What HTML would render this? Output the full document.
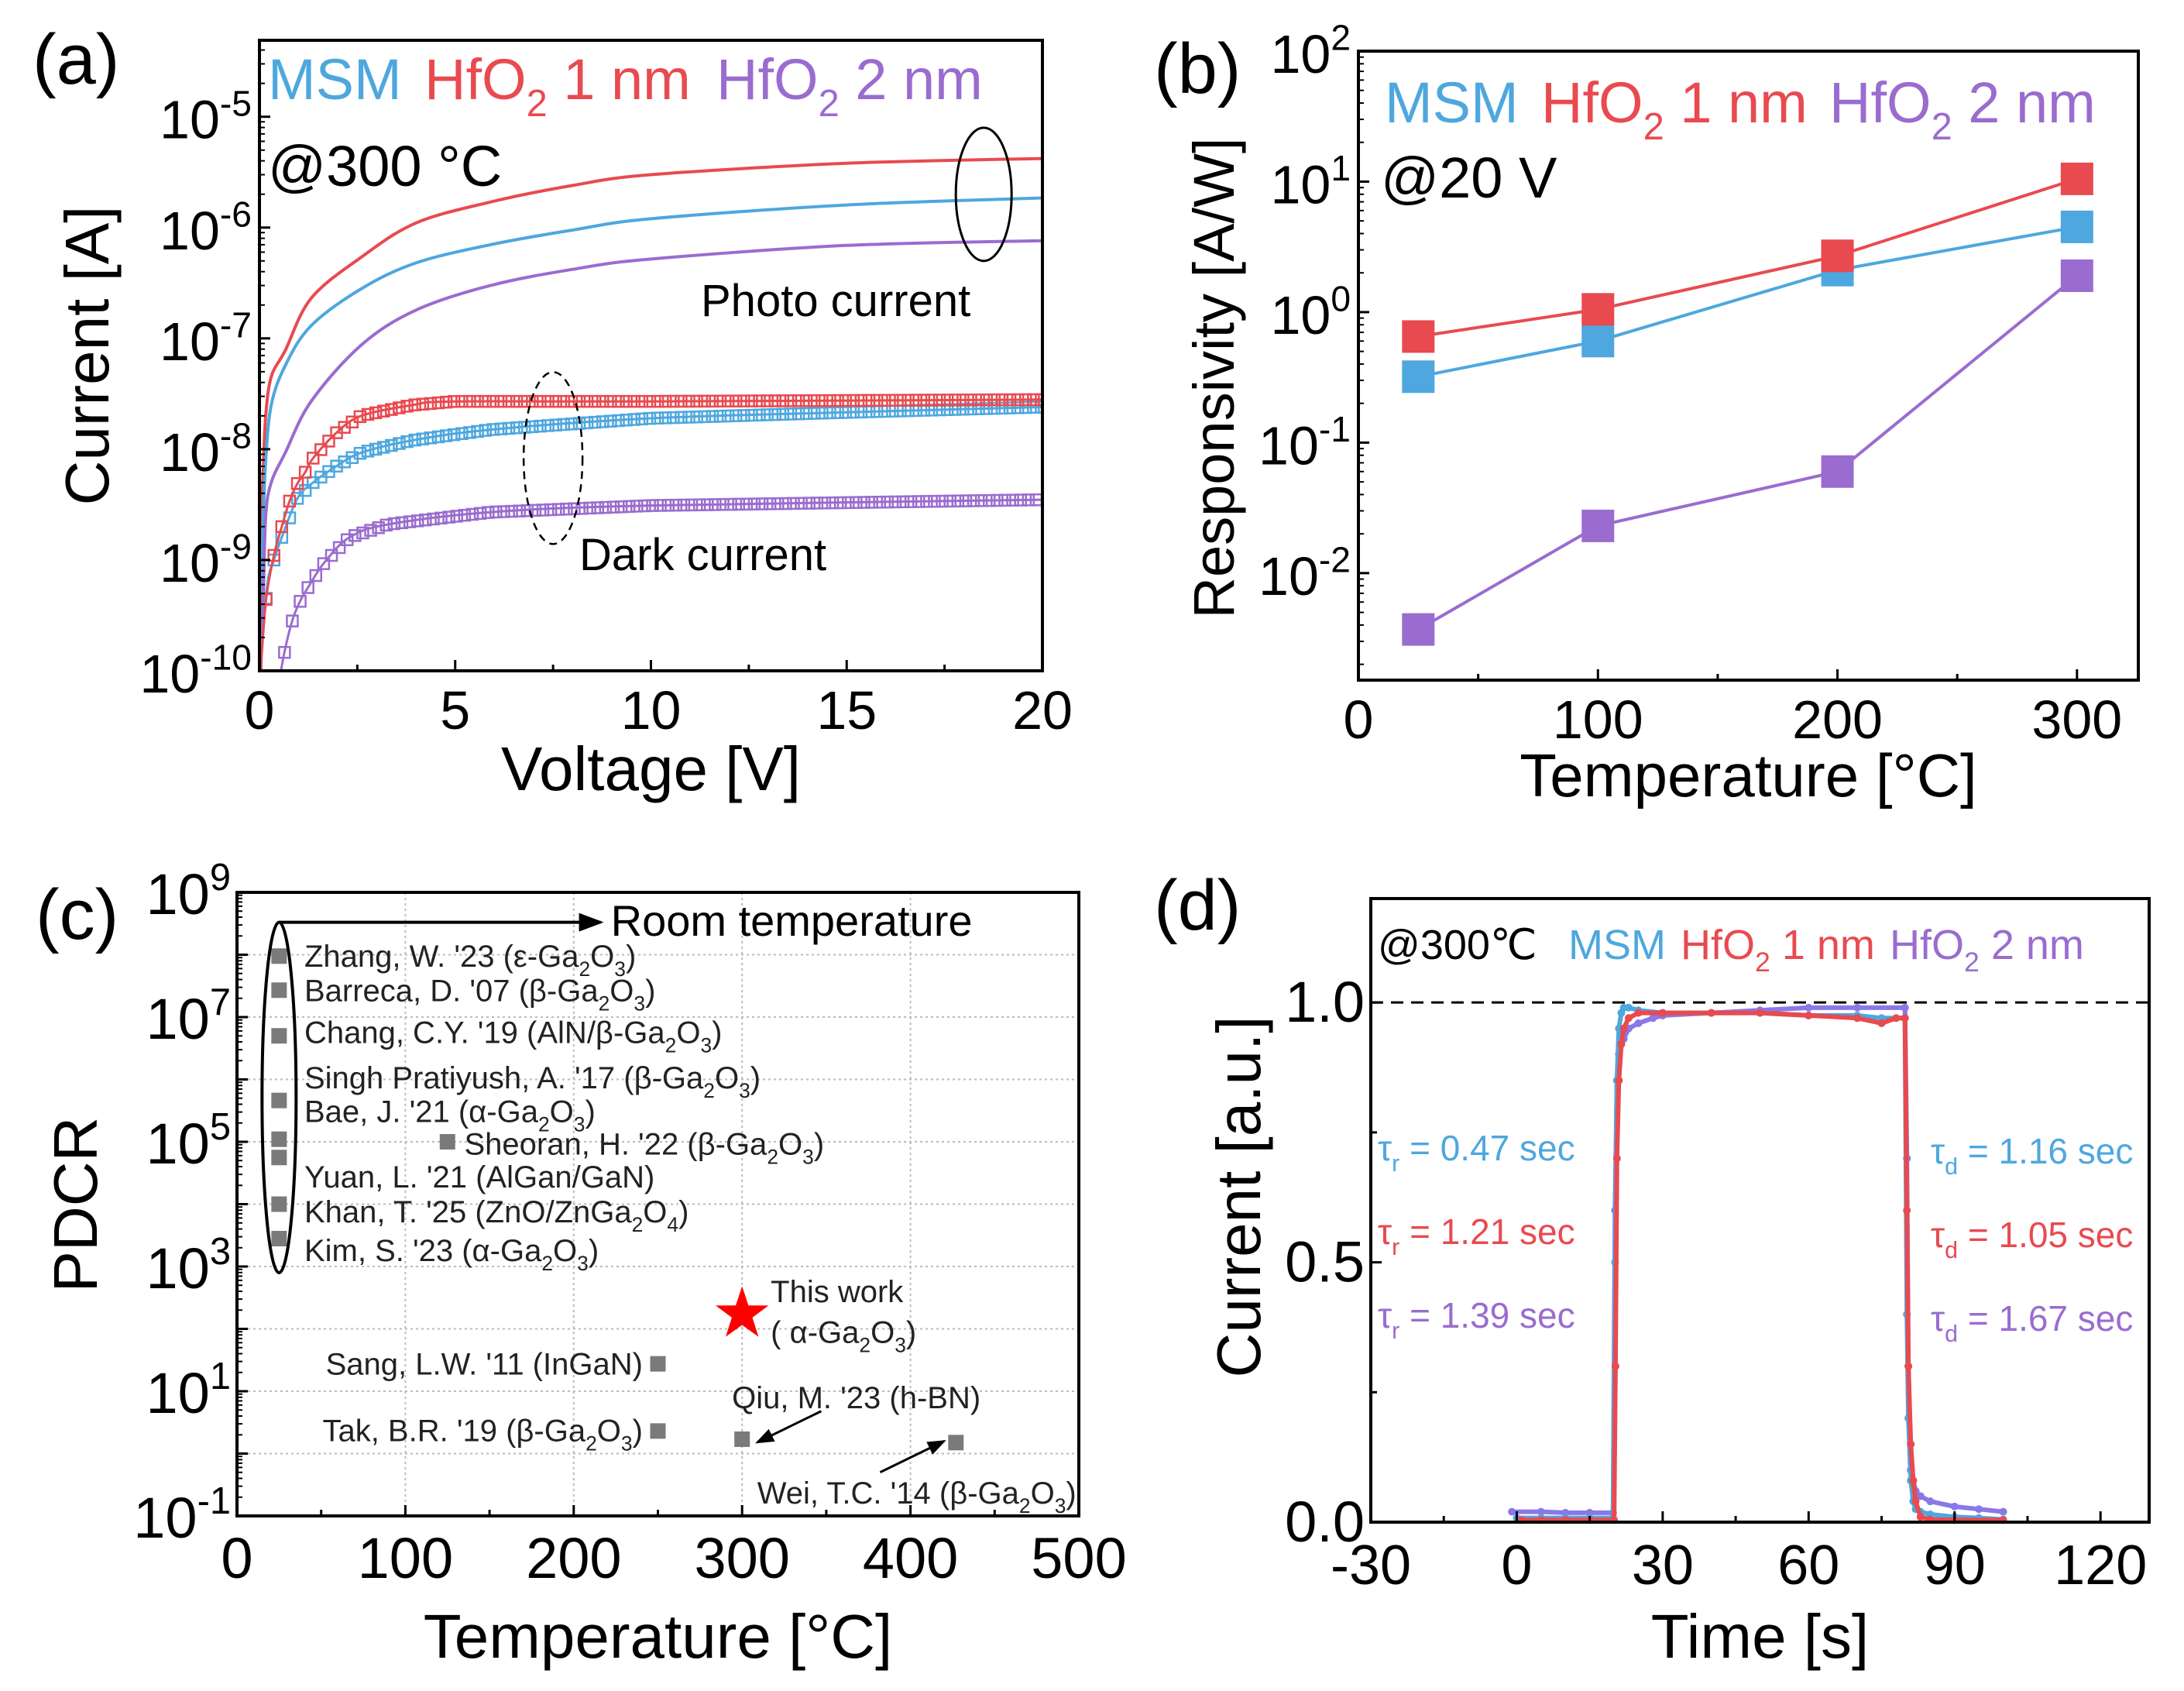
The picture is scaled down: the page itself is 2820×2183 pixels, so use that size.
<!DOCTYPE html>
<html><head><meta charset="utf-8">
<style>
html,body{margin:0;padding:0;background:#fff;}
svg{display:block;font-family:"Liberation Sans",Arial,sans-serif;}
</style></head>
<body>
<svg id="fig" width="2820" height="2183" viewBox="0 0 2820 2183" xmlns="http://www.w3.org/2000/svg"></svg>
<script>
// ---------- Panel (a) data ----------
const aPhotoV = [0.02,0.05,0.1,0.16,0.3,0.66,1.32,2.6,4,5.9,8,10,15,20];
const aPhotoRed = [3e-10,2e-9,7e-9,2e-8,4.5e-8,7.8e-8,2.3e-7,5.4e-7,1.1e-6,1.7e-6,2.4e-6,3e-6,3.8e-6,4.2e-6];
const aPhotoBlue = [1.5e-10,6e-10,2.5e-9,8e-9,2.5e-8,5.7e-8,1.3e-7,2.8e-7,4.8e-7,7e-7,9.5e-7,1.2e-6,1.6e-6,1.85e-6];
const aPhotoPurple = [5e-11,1.6e-10,5e-10,2.5e-9,5e-9,9.3e-9,2.7e-8,8.7e-8,1.8e-7,3e-7,4.2e-7,5.2e-7,6.9e-7,7.6e-7];
const aDarkRedV = [0.03,0.17,0.37,0.57,0.77,0.97,1.17,1.37,1.96,2.6,3.9,5,10,20];
const aDarkRed = [1e-10,4.4e-10,1.1e-9,2e-9,3.4e-9,4.9e-9,6.2e-9,8.3e-9,1.4e-8,2e-8,2.5e-8,2.7e-8,2.7e-8,2.8e-8];
const aDarkBlueV = [0.03,0.2,0.37,0.57,0.97,1.37,1.96,2.6,3.9,5.9,10,15,20];
const aDarkBlue = [1.2e-10,6e-10,1e-9,1.6e-9,3.6e-9,5e-9,7e-9,9.3e-9,1.2e-8,1.5e-8,1.9e-8,2.15e-8,2.4e-8];
const aDarkPurpleV = [0.5,0.66,0.86,1.06,1.26,1.66,2.3,3.3,5.9,10,20];
const aDarkPurple = [8e-11,1.6e-10,3e-10,4.4e-10,5.8e-10,9.5e-10,1.6e-9,2.1e-9,2.7e-9,3.1e-9,3.5e-9];
const aXTicks = [0,5,10,15,20];
const aYTicks = [-10,-9,-8,-7,-6,-5];

// ---------- Panel (b) data ----------
const bTemps = [25,100,200,300];
const bMSM = [0.32,0.6,2.1,4.5];
const bHf1 = [0.65,1.05,2.7,10.5];
const bHf2 = [0.0037,0.023,0.06,1.9];
const bXTicks = [0,100,200,300];
const bYTicks = [-2,-1,0,1,2];

// ---------- Panel (c) data ----------
const cNames = ["Zhang","Barreca","Chang","Bae","Singh","Yuan","Khan","Kim","Sheoran","Sang","Tak","Qiu","Wei"];
const cTemps = [25,25,25,25,25,25,25,25,125,250,250,300,427];
const cPDCR = [9.5e7,2.7e7,5e6,4.6e5,1.1e5,5.6e4,1e4,2.8e3,1e5,27.5,2.3,1.7,1.5];
const cThisTemp = [300];
const cThisPDCR = [172];
const cXTicks = [0,100,200,300,400,500];
const cYTicks = [-1,1,3,5,7,9];

// ---------- Panel (d) data ----------
const dMSMt = [0,5,10,15,19.8,20.2,20.6,21,21.5,22,23,25,30,40,50,60,70,75,79.8,80.2,80.5,81,81.5,82,83,85,90,95,100];
const dMSMv = [0.008,0.008,0.008,0.008,0.008,0.5,0.85,0.95,0.98,0.99,0.99,0.985,0.98,0.98,0.98,0.975,0.975,0.97,0.97,0.4,0.2,0.08,0.04,0.025,0.02,0.015,0.01,0.008,0.005];
const dHf2t = [-1,5,10,15,19.8,20.2,20.6,21,22,23,25,28,30,40,50,60,70,79.8,80.2,80.5,81,82,83,85,90,95,100];
const dHf2v = [0.02,0.02,0.018,0.018,0.018,0.6,0.85,0.9,0.93,0.95,0.96,0.97,0.975,0.98,0.985,0.99,0.99,0.99,0.7,0.3,0.1,0.06,0.05,0.04,0.03,0.025,0.02];
const dHf1t = [1,5,10,15,20,20.3,20.6,21,21.5,22,23,25,30,40,50,60,70,75,78,79.8,80.2,80.5,81,81.5,82,83,85,90,100];
const dHf1v = [0.004,0.004,0.004,0.004,0.004,0.3,0.7,0.85,0.92,0.95,0.97,0.98,0.98,0.98,0.98,0.975,0.97,0.96,0.97,0.97,0.6,0.3,0.15,0.08,0.04,0.01,0.005,0.004,0.004];
const dXTicks = [-30,0,30,60,90,120];
const dYTicks = [0,0.5,1.0];

const BLUE="#4ea7de", RED="#e84a50", PURPLE="#9a6ccf";
const NS="http://www.w3.org/2000/svg";
const svg=document.getElementById('fig');
function mk(tag,attrs,parent){const e=document.createElementNS(NS,tag);for(const k in attrs)e.setAttribute(k,attrs[k]);(parent||svg).appendChild(e);return e;}
function rich(parent,x,y,str,size,fill,anchor,extra){
  const t=mk('text',Object.assign({x:x,y:y,'font-size':size,fill:fill||'#000','text-anchor':anchor||'start'},extra||{}),parent);
  const re=/([_^])\{([^}]*)\}|([^_^]+)/g;let m;let shift=0;
  while((m=re.exec(str))){
    const s=mk('tspan',{},t);
    if(m[3]!==undefined){s.textContent=m[3];s.setAttribute('dy',-shift);shift=0;}
    else{const d=m[1]==='_'?size*0.3:-size*0.42;s.textContent=m[2];s.setAttribute('font-size',size*0.66);s.setAttribute('dy',d-shift);shift=d;}
  }
  if(shift){const s=mk('tspan',{dy:-shift},t);s.textContent='\u200b';}
  return t;
}
function linAx(d0,d1,p0,p1){return v=>p0+(v-d0)/(d1-d0)*(p1-p0);}
function logAx(l0,l1,p0,p1){return v=>p0+(Math.log10(v)-l0)/(l1-l0)*(p1-p0);}
function pathD(xs,ys,sx,sy){return xs.map((x,i)=>(i?'L':'M')+sx(x).toFixed(1)+','+sy(ys[i]).toFixed(1)).join('');}
// smooth (monotone-ish) path through points using Catmull-Rom in pixel space
function smoothD(xs,ys,sx,sy){
  const p=xs.map((x,i)=>[sx(x),sy(ys[i])]);let d='M'+p[0][0].toFixed(1)+','+p[0][1].toFixed(1);
  for(let i=0;i<p.length-1;i++){const p0=p[i-1]||p[i],p1=p[i],p2=p[i+1],p3=p[i+2]||p2;
    const c1=[p1[0]+(p2[0]-p0[0])/6,p1[1]+(p2[1]-p0[1])/6],c2=[p2[0]-(p3[0]-p1[0])/6,p2[1]-(p3[1]-p1[1])/6];
    d+='C'+c1[0].toFixed(1)+','+c1[1].toFixed(1)+' '+c2[0].toFixed(1)+','+c2[1].toFixed(1)+' '+p2[0].toFixed(1)+','+p2[1].toFixed(1);}
  return d;
}

// ================= Panel (a) =================
(function(){
const L=335,R=1346,T=52,B=866;
const g=mk('g',{});


const sx=linAx(0,20,L,R), sy=logAx(-10,-4.31,B,T);
const clip=mk('clipPath',{id:'clipA'},g);mk('rect',{x:L,y:T,width:R-L,height:B-T},clip);
const series=[[aPhotoV,aPhotoRed,RED,'photo-current-hfo2-1nm'],[aPhotoV,aPhotoBlue,BLUE,'photo-current-msm'],[aPhotoV,aPhotoPurple,PURPLE,'photo-current-hfo2-2nm']];
series.forEach(s=>{const p=mk('path',{d:smoothD(s[0],s[1],sx,sy),fill:'none',stroke:s[2],'stroke-width':4,'clip-path':'url(#clipA)'},g);

});
const dark=[[aDarkBlueV,aDarkBlue,BLUE,'dark-current-msm'],[aDarkPurpleV,aDarkPurple,PURPLE,'dark-current-hfo2-2nm'],[aDarkRedV,aDarkRed,RED,'dark-current-hfo2-1nm']];
dark.forEach(s=>{
  const gg=mk('g',{'clip-path':'url(#clipA)'},g);
  
  
  mk('path',{d:smoothD(s[0],s[1],sx,sy),fill:'none',stroke:s[2],'stroke-width':3},gg);
  const xs=s[0],ys=s[1];
  for(let v=xs[0]+0.14;v<=20.001;v+=0.2){
    let i=0;while(i<xs.length-2&&xs[i+1]<v)i++;
    const f=Math.max(0,Math.min(1,(v-xs[i])/(xs[i+1]-xs[i])));
    const lv=Math.log10(ys[i])+(Math.log10(ys[i+1])-Math.log10(ys[i]))*f;
    const px=sx(v),py=sy(Math.pow(10,lv));
    const r=mk('rect',{x:px-7,y:py-7,width:14,height:14,fill:'none',stroke:s[2],'stroke-width':2.5},gg);
    
    
  }
});
mk('rect',{x:L,y:T,width:R-L,height:B-T,fill:'none',stroke:'#000','stroke-width':4},g);
aXTicks.forEach(v=>{mk('line',{x1:sx(v),x2:sx(v),y1:B,y2:B-14,stroke:'#000','stroke-width':3},g);
  const t=mk('text',{x:sx(v),y:B+75,'font-size':70,'text-anchor':'middle'},g);t.textContent=v;
  });
for(let v=2.5;v<20;v+=5)mk('line',{x1:sx(v),x2:sx(v),y1:B,y2:B-8,stroke:'#000','stroke-width':3},g);
aYTicks.forEach(e=>{mk('line',{x1:L,x2:L+14,y1:sy(Math.pow(10,e)),y2:sy(Math.pow(10,e)),stroke:'#000','stroke-width':3},g);
  const t=rich(g,L-10,sy(Math.pow(10,e))+28,'10^{'+e+'}',70,'#000','end');
  });
for(let e=-10;e<-4;e++)for(let k=2;k<10;k++){const y=sy(k*Math.pow(10,e));if(y<T)continue;mk('line',{x1:L,x2:L+7,y1:y,y2:y,stroke:'#000','stroke-width':2},g);}
let t=mk('text',{x:(L+R)/2,y:1020,'font-size':80,'text-anchor':'middle'},g);t.textContent='Voltage [V]';

t=mk('text',{x:0,y:0,'font-size':80,'text-anchor':'middle',transform:'translate(140,459) rotate(-90)'},g);t.textContent='Current [A]';

t=mk('text',{x:42,y:108,'font-size':92},g);t.textContent='(a)';

const lg=mk('g',{},g);
rich(lg,346,128,'MSM',74,BLUE);rich(lg,548,128,'HfO_{2} 1 nm',74,RED);rich(lg,925,128,'HfO_{2} 2 nm',74,PURPLE);
t=mk('text',{x:346,y:240,'font-size':74},g);t.textContent='@300 °C';

t=mk('text',{x:905,y:408,'font-size':58},g);t.textContent='Photo current';

t=mk('text',{x:748,y:736,'font-size':58},g);t.textContent='Dark current';

let el=mk('ellipse',{cx:sx(18.5),cy:sy(Math.pow(10,-5.7)),rx:36,ry:86,fill:'none',stroke:'#000','stroke-width':3},g);

el=mk('ellipse',{cx:sx(7.5),cy:sy(Math.pow(10,-8.08)),rx:38,ry:111,fill:'none',stroke:'#000','stroke-width':2.5,'stroke-dasharray':'10,7'},g);

})();

// ================= Panel (b) =================
(function(){
const L=1754,R=2761,T=66,B=878;
const g=mk('g',{});


const sx=linAx(0,325.6,L,R), sy=logAx(-2.82,2,B,T);
[[bMSM,BLUE,'series-msm'],[bHf1,RED,'series-hfo2-1nm'],[bHf2,PURPLE,'series-hfo2-2nm']].forEach(s=>{
  const gg=mk('g',{},g);
  mk('path',{d:pathD(bTemps,s[0],sx,sy),fill:'none',stroke:s[1],'stroke-width':4},gg);
});
[[bMSM,BLUE],[bHf1,RED],[bHf2,PURPLE]].forEach(s=>{
  bTemps.forEach((x,i)=>{const r=mk('rect',{x:sx(x)-21,y:sy(s[0][i])-21,width:42,height:42,fill:s[1]},g);
  });
});
mk('rect',{x:L,y:T,width:R-L,height:B-T,fill:'none',stroke:'#000','stroke-width':4},g);
bXTicks.forEach(v=>{mk('line',{x1:sx(v),x2:sx(v),y1:B,y2:B-14,stroke:'#000','stroke-width':3},g);
  const t=mk('text',{x:sx(v),y:B+75,'font-size':70,'text-anchor':'middle'},g);t.textContent=v;
  });
[50,150,250].forEach(v=>mk('line',{x1:sx(v),x2:sx(v),y1:B,y2:B-8,stroke:'#000','stroke-width':3},g));
bYTicks.forEach(e=>{const y=sy(Math.pow(10,e));mk('line',{x1:L,x2:L+14,y1:y,y2:y,stroke:'#000','stroke-width':3},g);
  const t=rich(g,L-10,y+28,'10^{'+e+'}',70,'#000','end');
  });
for(let e=-3;e<2;e++)for(let k=2;k<10;k++){const y=sy(k*Math.pow(10,e));if(y>B)continue;mk('line',{x1:L,x2:L+7,y1:y,y2:y,stroke:'#000','stroke-width':2},g);}
let t=mk('text',{x:(L+R)/2,y:1028,'font-size':78,'text-anchor':'middle'},g);t.textContent='Temperature [°C]';

t=mk('text',{x:0,y:0,'font-size':74,'text-anchor':'middle',transform:'translate(1593,488) rotate(-90)'},g);t.textContent='Responsivity [A/W]';

t=mk('text',{x:1490,y:120,'font-size':92},g);t.textContent='(b)';

const lg=mk('g',{},g);
rich(lg,1788,158,'MSM',74,BLUE);rich(lg,1990,158,'HfO_{2} 1 nm',74,RED);rich(lg,2362,158,'HfO_{2} 2 nm',74,PURPLE);
t=mk('text',{x:1783,y:255,'font-size':74},g);t.textContent='@20 V';

})();

// ================= Panel (c) =================
const cLabels = [
 [40,7.98,"Zhang, W. '23 (ε-Ga_{2}O_{3})"],
 [40,7.43,"Barreca, D. '07 (β-Ga_{2}O_{3})"],
 [40,6.76,"Chang, C.Y. '19 (AlN/β-Ga_{2}O_{3})"],
 [40,6.03,"Singh Pratiyush, A. '17 (β-Ga_{2}O_{3})"],
 [40,5.49,"Bae, J. '21 (α-Ga_{2}O_{3})"],
 [135,4.97,"Sheoran, H. '22 (β-Ga_{2}O_{3})"],
 [40,4.44,"Yuan, L. '21 (AlGan/GaN)"],
 [40,3.88,"Khan, T. '25 (ZnO/ZnGa_{2}O_{4})"],
 [40,3.26,"Kim, S. '23 (α-Ga_{2}O_{3})"]
];
(function(){
const L=306,R=1393,T=1152,B=1957;
const g=mk('g',{});


const sx=linAx(0,500,L,R), sy=logAx(-1,9,B,T), ly=e=>sy(Math.pow(10,e));
for(let e=0;e<9;e++)mk('line',{x1:L,x2:R,y1:ly(e),y2:ly(e),stroke:'#bbb','stroke-width':2,'stroke-dasharray':'3,4'},g);
[100,200,300,400].forEach(v=>mk('line',{x1:sx(v),x2:sx(v),y1:T,y2:B,stroke:'#bbb','stroke-width':2,'stroke-dasharray':'3,4'},g));
cTemps.forEach((x,i)=>{const r=mk('rect',{x:sx(x)-10,y:sy(cPDCR[i])-10,width:20,height:20,fill:'#7a7a7a'},g);
  });
const cx=sx(cThisTemp[0]),cy=sy(cThisPDCR[0]);let pts=[];
for(let k=0;k<10;k++){const a=-Math.PI/2+k*Math.PI/5,r=k%2?14:36;pts.push((cx+r*Math.cos(a)).toFixed(1)+','+(cy+r*Math.sin(a)).toFixed(1));}
let st=mk('polygon',{points:pts.join(' '),fill:'#f00'},g);

mk('rect',{x:L,y:T,width:R-L,height:B-T,fill:'none',stroke:'#000','stroke-width':4},g);
cXTicks.forEach(v=>{mk('line',{x1:sx(v),x2:sx(v),y1:B,y2:B-14,stroke:'#000','stroke-width':3},g);
  const t=mk('text',{x:sx(v),y:B+80,'font-size':74,'text-anchor':'middle'},g);t.textContent=v;
  });
[50,150,250,350,450].forEach(v=>mk('line',{x1:sx(v),x2:sx(v),y1:B,y2:B-8,stroke:'#000','stroke-width':3},g));
for(let e=-1;e<=9;e++)mk('line',{x1:L,x2:L+14,y1:ly(e),y2:ly(e),stroke:'#000','stroke-width':3},g);
for(let e=-1;e<9;e++)for(let k=2;k<10;k++){const y=sy(k*Math.pow(10,e));mk('line',{x1:L,x2:L+7,y1:y,y2:y,stroke:'#000','stroke-width':2},g);}
cYTicks.forEach(e=>{const t=rich(g,L-8,ly(e)+28,'10^{'+e+'}',74,'#000','end');
  });
cLabels.forEach(l=>{const t=rich(g,sx(l[0]),ly(l[1])+14,l[2],40,'#222');
  });
let t=rich(g,sx(241),ly(1.44)+14,"Sang, L.W. '11 (InGaN)",40,'#222','end');
t=rich(g,sx(241),ly(0.37)+14,"Tak, B.R. '19 (β-Ga_{2}O_{3})",40,'#222','end');
t=rich(g,sx(294),ly(0.9)+14,"Qiu, M. '23 (h-BN)",40,'#222');
t=rich(g,sx(309),ly(-0.63)+14,"Wei, T.C. '14 (β-Ga_{2}O_{3})",40,'#222');
t=rich(g,sx(317),ly(2.6)+14,"This work",40,'#222');
t=rich(g,sx(317),ly(1.95)+14,"( α-Ga_{2}O_{3})",40,'#222');
t=mk('text',{x:sx(222),y:ly(8.55)+20,'font-size':56},g);t.textContent='Room temperature';

const e0=ly(8.52),e1=ly(2.9);
let el=mk('ellipse',{cx:sx(25),cy:(e0+e1)/2,rx:22,ry:(e1-e0)/2,fill:'none',stroke:'#000','stroke-width':4},g);

const defs=mk('defs',{},g);const mkr=mk('marker',{id:'ah',markerWidth:8,markerHeight:8,refX:7,refY:4,orient:'auto',markerUnits:'strokeWidth'},defs);
mk('path',{d:'M0,1 L8,4 L0,7 Z',fill:'#000'},mkr);
let a=mk('path',{d:`M${sx(25)},${e0} L${sx(216)},${e0}`,stroke:'#000','stroke-width':4,fill:'none','marker-end':'url(#ah)'},g);

a=mk('line',{x1:sx(347),y1:ly(0.68),x2:sx(309),y2:ly(0.18),stroke:'#000','stroke-width':3,'marker-end':'url(#ah)'},g);

a=mk('line',{x1:sx(382),y1:ly(-0.3),x2:sx(420),y2:ly(0.2),stroke:'#000','stroke-width':3,'marker-end':'url(#ah)'},g);

t=mk('text',{x:(L+R)/2,y:2140,'font-size':80,'text-anchor':'middle'},g);t.textContent='Temperature [°C]';

t=mk('text',{x:0,y:0,'font-size':80,'text-anchor':'middle',transform:'translate(125,1555) rotate(-90)'},g);t.textContent='PDCR';

t=mk('text',{x:46,y:1212,'font-size':92},g);t.textContent='(c)';

})();

// ================= Panel (d) =================
(function(){
const L=1770,R=2775,T=1160,B=1965;
const g=mk('g',{});


const sx=linAx(-30,130,L,R), sy=linAx(0,1.2,B,T);
mk('line',{x1:L,x2:R,y1:sy(1),y2:sy(1),stroke:'#000','stroke-width':3,'stroke-dasharray':'16,10'},g);
[[dHf2t,dHf2v,'#8a78e8','transient-hfo2-2nm'],[dMSMt,dMSMv,BLUE,'transient-msm'],[dHf1t,dHf1v,RED,'transient-hfo2-1nm']].forEach(s=>{
  const gg=mk('g',{},g);
  mk('path',{d:pathD(s[0],s[1],sx,sy),fill:'none',stroke:s[2],'stroke-width':6},gg);
  s[0].forEach((x,i)=>mk('circle',{cx:sx(x),cy:sy(s[1][i]),r:5,fill:s[2]},gg));
});
mk('rect',{x:L,y:T,width:R-L,height:B-T,fill:'none',stroke:'#000','stroke-width':4},g);
dXTicks.forEach(v=>{mk('line',{x1:sx(v),x2:sx(v),y1:B,y2:B-14,stroke:'#000','stroke-width':3},g);
  const t=mk('text',{x:sx(v),y:B+80,'font-size':72,'text-anchor':'middle'},g);t.textContent=v;
  });
[-15,15,45,75,105].forEach(v=>mk('line',{x1:sx(v),x2:sx(v),y1:B,y2:B-8,stroke:'#000','stroke-width':3},g));
dYTicks.forEach(v=>{mk('line',{x1:L,x2:L+14,y1:sy(v),y2:sy(v),stroke:'#000','stroke-width':3},g);
  const t=mk('text',{x:L-8,y:sy(v)+25,'font-size':74,'text-anchor':'end'},g);t.textContent=v.toFixed(1);
  });
[0.25,0.75].forEach(v=>mk('line',{x1:L,x2:L+8,y1:sy(v),y2:sy(v),stroke:'#000','stroke-width':3},g));
let t=mk('text',{x:(L+R)/2,y:2140,'font-size':80,'text-anchor':'middle'},g);t.textContent='Time [s]';

t=mk('text',{x:0,y:0,'font-size':80,'text-anchor':'middle',transform:'translate(1627,1545) rotate(-90)'},g);t.textContent='Current [a.u.]';

t=mk('text',{x:1490,y:1200,'font-size':92},g);t.textContent='(d)';

const lg=mk('g',{},g);
rich(lg,1779,1238,'@300℃',54,'#000');rich(lg,2025,1238,'MSM',54,BLUE);rich(lg,2170,1238,'HfO_{2} 1 nm',54,RED);rich(lg,2440,1238,'HfO_{2} 2 nm',54,PURPLE);
const tau=[[1779,1498,'τ_{r} = 0.47 sec',BLUE],[1779,1606,'τ_{r} = 1.21 sec',RED],[1779,1714,'τ_{r} = 1.39 sec',PURPLE],
 [2493,1502,'τ_{d} = 1.16 sec',BLUE],[2493,1610,'τ_{d} = 1.05 sec',RED],[2493,1718,'τ_{d} = 1.67 sec',PURPLE]];
tau.forEach(a=>{const tt=rich(g,a[0],a[1],a[2],46,a[3]);
  });
})();
</script>
</body></html>
